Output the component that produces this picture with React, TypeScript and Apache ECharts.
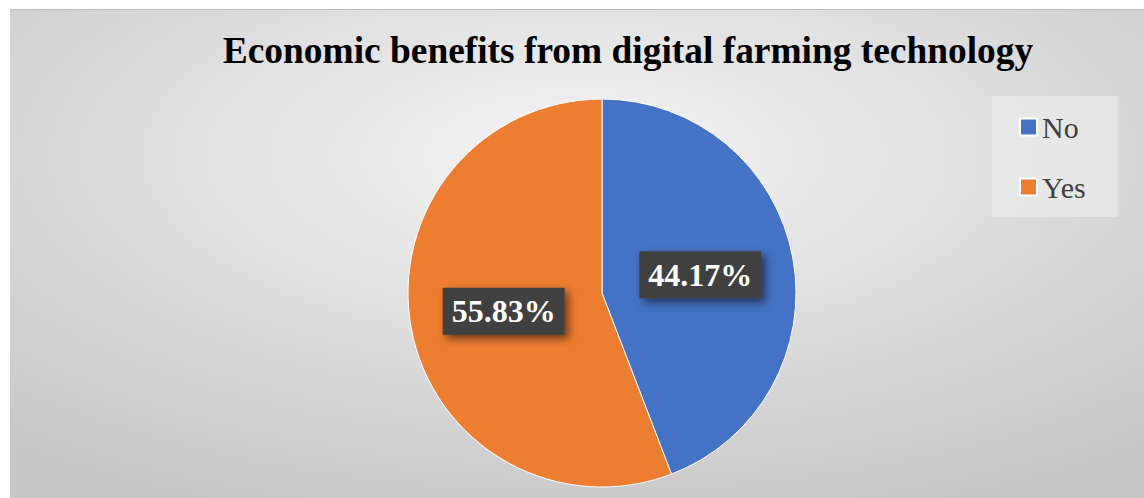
import React, { useEffect, useRef } from "react";
import * as echarts from "echarts";

const title = "Economic benefits from digital farming technology";
const categories = ["No", "Yes"];
const values = [44.17, 55.83];
const colors = ["#4472C4", "#ED7D31"];

export default function App() {
  const ref = useRef<HTMLDivElement>(null);
  useEffect(() => {
    document.body.style.margin = "0";
    document.body.style.overflow = "hidden";
    const chart = echarts.init(ref.current!, undefined, { renderer: "svg" });
    const W = 1134;
    const H = 489;
    chart.setOption({
      animation: false,
      backgroundColor: "#ffffff",
      graphic: [
        {
          type: "rect",
          z: -10,
          silent: true,
          x: 10,
          y: 9,
          scaleX: W / H,
          scaleY: 1,
          shape: { x: 0, y: 0, width: H, height: H },
          style: {
            fill: {
              type: "radial",
              x: 0.5,
              y: 0.3,
              r: 0.78,
              colorStops: [
                { offset: 0, color: "#f4f4f4" },
                { offset: 1, color: "#c6c6c6" },
              ],
            },
          },
        },
        {
          type: "line",
          z: -9,
          silent: true,
          shape: { x1: 10, y1: 9.5, x2: 1144, y2: 9.5 },
          style: { stroke: "#bdbdbd", lineWidth: 1 },
        },
      ],
      title: {
        text: title,
        left: 623,
        top: 27,
        textAlign: "center",
        textStyle: {
          fontFamily: "'Liberation Serif', 'Times New Roman', serif",
          fontWeight: "bold",
          fontSize: 37.4,
          color: "#000000",
        },
      },
      legend: {
        orient: "vertical",
        left: 992,
        top: 96,
        padding: [16, 32, 15, 27],
        backgroundColor: "rgba(240,240,240,0.55)",
        itemWidth: 17,
        itemHeight: 17,
        itemGap: 30,
        icon: "rect",
        data: categories,
        textStyle: {
          fontFamily: "'Liberation Serif', 'Times New Roman', serif",
          fontSize: 30,
          lineHeight: 30,
          color: "#404040",
        },
      },
      series: [
        {
          type: "pie",
          center: [602, 293],
          radius: 194,
          startAngle: 90,
          clockwise: true,
          itemStyle: { borderColor: "#ffffff", borderWidth: 1 },
          label: {
            show: true,
            position: "inside",
            formatter: (p: any) => p.value.toFixed(2) + "%",
            fontFamily: "'Liberation Serif', 'Times New Roman', serif",
            fontWeight: "bold",
            fontSize: 32,
            color: "#ffffff",
            backgroundColor: "#404040",
            padding: [7, 9, 5, 9],
            lineHeight: 35,
            shadowColor: "rgba(0,0,0,0.55)",
            shadowBlur: 8,
            shadowOffsetX: 4,
            shadowOffsetY: 4,
          },
          labelLine: { show: false },
          emphasis: { disabled: true },
          data: categories.map((c, i) => ({
            name: c,
            value: values[i],
            itemStyle: { color: colors[i] },
          })),
        },
      ],
    });
    return () => chart.dispose();
  }, []);
  return <div ref={ref} style={{ width: 1144, height: 498 }} />;
}
